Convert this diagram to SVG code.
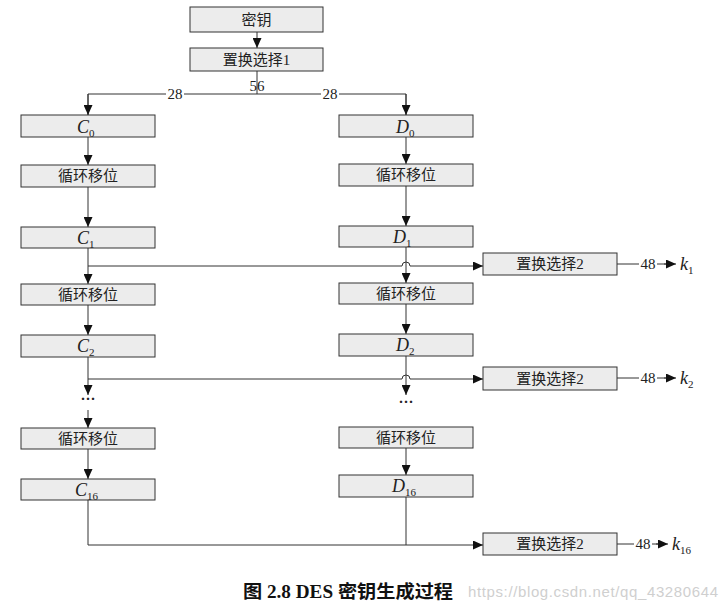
<svg xmlns="http://www.w3.org/2000/svg" width="722" height="607" viewBox="0 0 722 607">
<style>
.box{fill:#ececec;stroke:#333;stroke-width:1}
.cn{font-family:"Liberation Serif","Noto Sans CJK SC",serif;font-size:15px;fill:#222;text-anchor:middle}
.var{font-family:"Liberation Serif",serif;font-style:italic;font-size:18px;fill:#222}
.sub{font-family:"Liberation Serif",serif;font-size:11px;font-style:normal;fill:#222}
.num{font-family:"Liberation Serif",serif;font-size:15px;fill:#222;text-anchor:middle}
.ln{fill:none;stroke:#333;stroke-width:1}
.arr{marker-end:url(#ah)}
</style>
<defs>
<marker id="ah" markerUnits="userSpaceOnUse" markerWidth="10" markerHeight="9" refX="10" refY="4.5" orient="auto">
<path d="M0,0 L10,4.5 L0,9 z" fill="#111"/>
</marker>
</defs>
<rect width="722" height="607" fill="#fff"/>

<g id="connectors">
<line class="ln arr" x1="257" y1="32" x2="257" y2="48"/>
<line class="ln" x1="257" y1="71" x2="257" y2="94"/>
<path class="ln" d="M88,115 V94 H166 M184,94 H321 M339,94 H406 V115"/>
<line class="ln arr" x1="88" y1="94" x2="88" y2="115"/>
<line class="ln arr" x1="406" y1="94" x2="406" y2="115"/>
<line class="ln arr" x1="88" y1="137" x2="88" y2="165"/>
<line class="ln arr" x1="406" y1="137" x2="406" y2="164"/>
<line class="ln arr" x1="88" y1="187" x2="88" y2="227"/>
<line class="ln arr" x1="406" y1="186" x2="406" y2="226"/>
<line class="ln arr" x1="88" y1="248" x2="88" y2="284"/>
<line class="ln arr" x1="406" y1="247" x2="406" y2="283"/>
<path class="ln arr" d="M88,266 H402 A4,4 0 0 1 410,266 H483"/>
<line class="ln arr" x1="88" y1="305" x2="88" y2="335"/>
<line class="ln arr" x1="406" y1="304" x2="406" y2="334"/>
<line class="ln arr" x1="88" y1="357" x2="88" y2="395"/>
<line class="ln arr" x1="406" y1="356" x2="406" y2="395"/>
<path class="ln arr" d="M88,379 H402 A4,4 0 0 1 410,379 H483"/>
<line class="ln arr" x1="88" y1="410" x2="88" y2="428"/>
<line class="ln arr" x1="88" y1="449" x2="88" y2="479"/>
<line class="ln arr" x1="406" y1="448" x2="406" y2="475"/>
<path class="ln" d="M406,497 V545"/>
<path class="ln arr" d="M88,500 V545 H483"/>
<path class="ln" d="M617,264 H639 M657,264 H668"/>
<line class="ln arr" x1="664" y1="264" x2="676" y2="264"/>
<path class="ln" d="M617,378 H639 M657,378 H668"/>
<line class="ln arr" x1="664" y1="378" x2="676" y2="378"/>
<path class="ln" d="M617,544 H634 M652,544 H660"/>
<line class="ln arr" x1="656" y1="544" x2="668" y2="544"/>
<text class="num" x="175" y="99">28</text>
<text class="num" x="330" y="99">28</text>
<text class="num" x="257" y="91">56</text>
<text class="num" x="648" y="269">48</text>
<text class="num" x="648" y="383">48</text>
<text class="num" x="643" y="549">48</text>
<text class="var" x="680" y="270">k<tspan class="sub" dy="4">1</tspan></text>
<text class="var" x="680" y="384">k<tspan class="sub" dy="4">2</tspan></text>
<text class="var" x="672" y="550">k<tspan class="sub" dy="4">16</tspan></text>
<text class="num" x="88" y="404" font-weight="bold">···</text>
<text class="num" x="406" y="407" font-weight="bold">···</text>
</g>

<g id="key"><rect class="box" x="190" y="7" width="133" height="25"/><text class="cn" x="256.5" y="25">密钥</text></g>
<g id="pc1"><rect class="box" x="190" y="48" width="133" height="23"/><text class="cn" x="256.5" y="65">置换选择1</text></g>

<g id="c0"><rect class="box" x="21" y="115" width="134" height="22"/><text class="var" x="77" y="133">C<tspan class="sub" dy="4">0</tspan></text></g>
<g id="d0"><rect class="box" x="339" y="115" width="134" height="22"/><text class="var" x="396" y="133">D<tspan class="sub" dy="4">0</tspan></text></g>
<g id="ls1l"><rect class="box" x="21" y="165" width="134" height="22"/><text class="cn" x="88" y="181">循环移位</text></g>
<g id="ls1r"><rect class="box" x="339" y="164" width="134" height="22"/><text class="cn" x="406" y="180">循环移位</text></g>
<g id="c1"><rect class="box" x="21" y="227" width="134" height="21"/><text class="var" x="77" y="244">C<tspan class="sub" dy="4">1</tspan></text></g>
<g id="d1"><rect class="box" x="339" y="226" width="134" height="21"/><text class="var" x="393" y="243">D<tspan class="sub" dy="4">1</tspan></text></g>
<g id="pc2a"><rect class="box" x="483" y="253" width="134" height="22"/><text class="cn" x="550" y="269">置换选择2</text></g>
<g id="ls2l"><rect class="box" x="21" y="284" width="134" height="21"/><text class="cn" x="88" y="300">循环移位</text></g>
<g id="ls2r"><rect class="box" x="339" y="283" width="134" height="21"/><text class="cn" x="406" y="299">循环移位</text></g>
<g id="c2"><rect class="box" x="21" y="335" width="134" height="22"/><text class="var" x="77" y="352">C<tspan class="sub" dy="4">2</tspan></text></g>
<g id="d2"><rect class="box" x="339" y="334" width="134" height="22"/><text class="var" x="396" y="351">D<tspan class="sub" dy="4">2</tspan></text></g>
<g id="pc2b"><rect class="box" x="483" y="367" width="134" height="23"/><text class="cn" x="550" y="384">置换选择2</text></g>
<g id="ls3l"><rect class="box" x="21" y="428" width="134" height="21"/><text class="cn" x="88" y="444">循环移位</text></g>
<g id="ls3r"><rect class="box" x="339" y="427" width="134" height="21"/><text class="cn" x="406" y="443">循环移位</text></g>
<g id="c16"><rect class="box" x="21" y="479" width="134" height="21"/><text class="var" x="75" y="496">C<tspan class="sub" dy="4">16</tspan></text></g>
<g id="d16"><rect class="box" x="339" y="475" width="134" height="22"/><text class="var" x="392" y="492">D<tspan class="sub" dy="4">16</tspan></text></g>
<g id="pc2c"><rect class="box" x="483" y="533" width="134" height="22"/><text class="cn" x="550" y="549">置换选择2</text></g>

<g id="caption">
<text x="243" y="598" font-family="Liberation Serif,'Noto Sans CJK SC',serif" font-size="18" font-weight="bold" fill="#111" textLength="210" lengthAdjust="spacingAndGlyphs">图 2.8 DES 密钥生成过程</text>
<text x="468" y="597" font-family="Liberation Sans,sans-serif" font-size="15" fill="#cfcfcf" textLength="250">https://blog.csdn.net/qq_43280644</text>
</g>
</svg>
